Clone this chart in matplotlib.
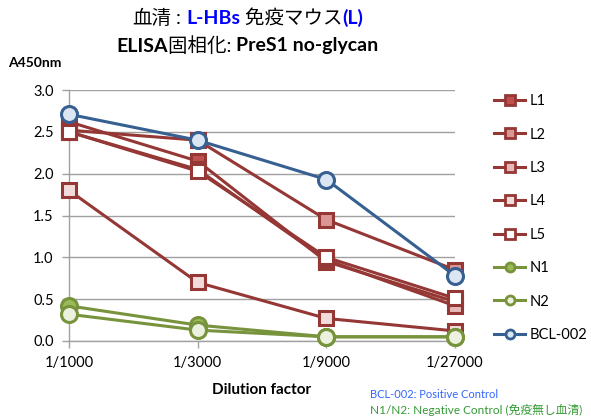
import matplotlib
matplotlib.use('Agg')
import matplotlib.pyplot as plt
from matplotlib.lines import Line2D

plt.rcParams['font.family'] = ['Lato', 'Noto Sans CJK JP', 'DejaVu Sans']

# data
dilutions = ['1/1000', '1/3000', '1/9000', '1/27000']
series_names = ['L1', 'L2', 'L3', 'L4', 'L5', 'N1', 'N2', 'BCL-002']
l1 = [2.62, 2.15, 0.95, 0.47]
l2 = [2.52, 2.40, 1.45, 0.85]
l3 = [2.50, 2.05, 0.97, 0.42]
l4 = [1.80, 0.70, 0.27, 0.12]
l5 = [2.50, 2.03, 1.00, 0.51]
n1 = [0.42, 0.19, 0.05, 0.05]
n2 = [0.32, 0.13, 0.05, 0.05]
bcl = [2.71, 2.40, 1.93, 0.78]
y_ticks = [0.0, 0.5, 1.0, 1.5, 2.0, 2.5, 3.0]

red = '#953735'
green = '#77933C'
blue = '#376092'
styles = {
    'L1': (red, '#C0504D', 's'),
    'L2': (red, '#D99694', 's'),
    'L3': (red, '#E6B9B8', 's'),
    'L4': (red, '#F2DCDB', 's'),
    'L5': (red, '#FFFFFF', 's'),
    'N1': (green, '#9BBB59', 'o'),
    'N2': (green, '#EBF1DE', 'o'),
    'BCL-002': (blue, '#DCE6F2', 'o'),
}
values = dict(zip(series_names, [l1, l2, l3, l4, l5, n1, n2, bcl]))

fig = plt.figure(figsize=(5.91, 4.18), dpi=100)
ax = fig.add_axes([69 / 591, 1 - 341 / 418, (455 - 69) / 591, (341 - 90) / 418])

x = range(len(dilutions))
handles = []
for name in series_names:
    line_c, face_c, mk = styles[name]
    ms = 10 if mk == 's' else 11.5
    ax.plot(x, values[name], color=line_c, lw=2.2, marker=mk, ms=ms,
            mfc=face_c, mec=line_c, mew=2.2, clip_on=False, zorder=3)
    handles.append(Line2D([], [], color=line_c, lw=2.2, marker=mk, ms=6.5,
                          mfc=face_c, mec=line_c, mew=2.0))

ax.set_xlim(0, 3)
ax.set_ylim(0, 3)
ax.set_xticks(list(x))
ax.set_xticklabels(dilutions, fontsize=10.5)
ax.set_yticks(y_ticks)
ax.set_yticklabels([f'{v:.1f}' for v in y_ticks], fontsize=10.5)
ax.grid(axis='y', color='#A0A0A0', lw=1.0)
ax.set_axisbelow(True)
for side in ['top', 'right']:
    ax.spines[side].set_visible(False)
for side in ['left', 'bottom']:
    ax.spines[side].set_color('#A0A0A0')
    ax.spines[side].set_linewidth(1.0)
ax.tick_params(axis='both', color='#A0A0A0', length=5, width=1, pad=6)
ax.set_xlabel('Dilution factor', fontsize=11, fontweight='bold', labelpad=9)

fig.legend(handles, series_names, loc='upper left',
           bbox_to_anchor=(484 / 591, 1 - 84 / 418), frameon=False,
           fontsize=10.5, labelspacing=1.33, handlelength=2.1,
           handletextpad=0.3, borderpad=0.2)

fig.text(8 / 591, 1 - 63 / 418, 'A450nm', fontsize=10, fontweight='bold',
         va='center')


def chain(x0, y0, parts, size):
    # chain text pieces so each starts where the previous one ends
    txt, col, wt = parts[0]
    prev = fig.text(x0, y0, txt, fontsize=size, color=col, fontweight=wt,
                    va='center')
    for txt, col, wt in parts[1:]:
        prev = ax.annotate(txt, xy=(1, 0.5), xycoords=prev, va='center',
                           ha='left', fontsize=size, color=col,
                           fontweight=wt, annotation_clip=False)


chain(132 / 591, 1 - 18 / 418,
      [('血清', 'black', 'normal'), (' : ', 'black', 'normal'),
       ('L-HBs', '#0000FF', 'bold'), (' 免疫マウス', 'black', 'normal'),
       ('(L)', '#0000FF', 'bold')], 14)
chain(116 / 591, 1 - 46 / 418,
      [('ELISA', 'black', 'bold'), ('固相化: ', 'black', 'normal'),
       ('PreS1 no-glycan', 'black', 'bold')], 14)

fig.text(370 / 591, 1 - 395 / 418, 'BCL-002: Positive Control', fontsize=8,
         color='#3366FF', va='center')
fig.text(370 / 591, 1 - 410 / 418, 'N1/N2: Negative Control (免疫無し血清)',
         fontsize=8.5, color='#339933', va='center')

fig.savefig('out.png', dpi=100)
